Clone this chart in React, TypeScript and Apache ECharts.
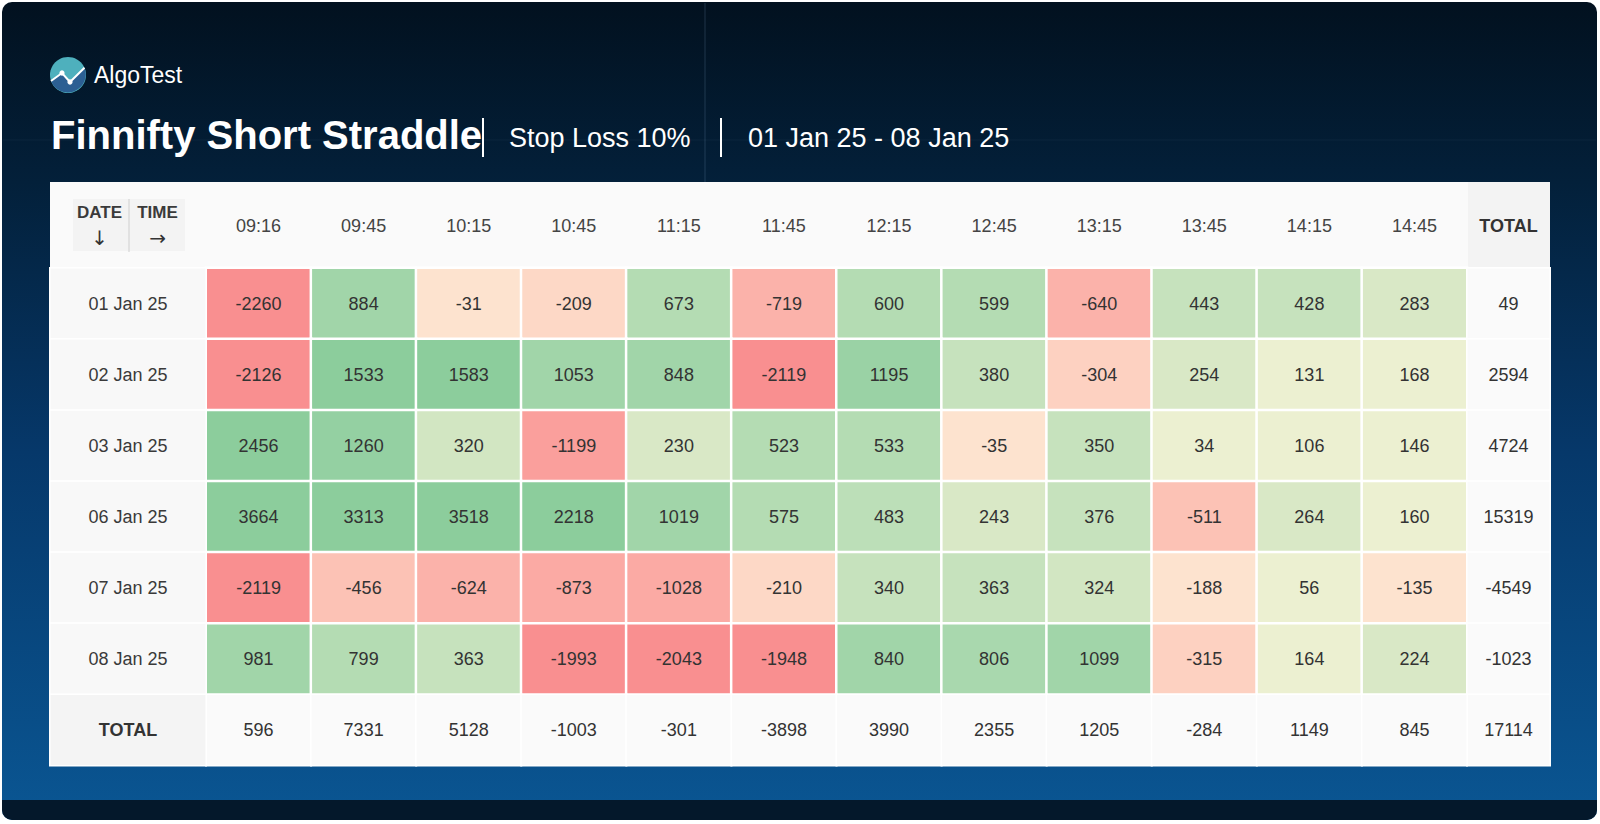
import React, { useEffect, useRef } from 'react';
import * as echarts from 'echarts';

const times = ['09:16', '09:45', '10:15', '10:45', '11:15', '11:45', '12:15', '12:45', '13:15', '13:45', '14:15', '14:45'];
const dates = ['01 Jan 25', '02 Jan 25', '03 Jan 25', '06 Jan 25', '07 Jan 25', '08 Jan 25'];
const row01 = [-2260, 884, -31, -209, 673, -719, 600, 599, -640, 443, 428, 283];
const row02 = [-2126, 1533, 1583, 1053, 848, -2119, 1195, 380, -304, 254, 131, 168];
const row03 = [2456, 1260, 320, -1199, 230, 523, 533, -35, 350, 34, 106, 146];
const row06 = [3664, 3313, 3518, 2218, 1019, 575, 483, 243, 376, -511, 264, 160];
const row07 = [-2119, -456, -624, -873, -1028, -210, 340, 363, 324, -188, 56, -135];
const row08 = [981, 799, 363, -1993, -2043, -1948, 840, 806, 1099, -315, 164, 224];
const rows = [row01, row02, row03, row06, row07, row08];
const rowTotals = [49, 2594, 4724, 15319, -4549, -1023];
const colTotals = [596, 7331, 5128, -1003, -301, -3898, 3990, 2355, 1205, -284, 1149, 845];
const grandTotal = 17114;
const totalLabel = 'TOTAL';

const FONT = '"Liberation Sans", Arial, Helvetica, sans-serif';

const logoD = 'M 51 81 L 62 73 L 70 82 L 84.5 67.8 A 18 18 0 1 1 51 81 Z';
let logoRegistered = false;
function registerLogo() {
  if (logoRegistered) return;
  echarts.graphic.registerShape('logoWave', echarts.graphic.extendPath(logoD, {}));
  logoRegistered = true;
}

const pieces = [
  { lt: -1500, color: '#f98f90' },
  { gte: -1500, lt: -1100, color: '#fa9f9c' },
  { gte: -1100, lt: -800, color: '#fbaaa4' },
  { gte: -800, lt: -600, color: '#fbb2aa' },
  { gte: -600, lt: -400, color: '#fcc2b5' },
  { gte: -400, lt: -250, color: '#fdd1c1' },
  { gte: -250, lt: -200, color: '#fdd8c6' },
  { gte: -200, lt: 0, color: '#fde3cf' },
  { gte: 0, lt: 200, color: '#ecf0d1' },
  { gte: 200, lt: 300, color: '#d9e8c6' },
  { gte: 300, lt: 340, color: '#d2e6c2' },
  { gte: 340, lt: 480, color: '#c6e2bd' },
  { gte: 480, lt: 520, color: '#bcdfb8' },
  { gte: 520, lt: 800, color: '#b4dcb3' },
  { gte: 800, lt: 830, color: '#a9d8ae' },
  { gte: 830, lt: 1150, color: '#a1d5a9' },
  { gte: 1150, lt: 1240, color: '#9ad2a5' },
  { gte: 1240, lt: 1400, color: '#94d0a2' },
  { gte: 1400, color: '#8ccd9c' },
];

export default function App() {
  const ref = useRef<HTMLDivElement>(null);

  useEffect(() => {
    if (!ref.current) return;
    registerLogo();
    const chart = echarts.init(ref.current, null, { renderer: 'svg' });

    const cellData: number[][] = [];
    rows.forEach((r, i) => r.forEach((v, j) => cellData.push([j, i, v])));
    const rowLabels = [...dates, totalLabel];

    const hidden = { show: false };
    const cellLabel = { show: true, fontSize: 18, color: '#333', fontFamily: FONT };

    const option: any = {
      animation: false,
      backgroundColor: 'transparent',
      grid: [
        { left: 206, top: 268, width: 1261, height: 426.5 },
        { left: 1467, top: 268, width: 83, height: 497.5 },
        { left: 206, top: 694.5, width: 1261, height: 71 },
        { left: 50, top: 268, width: 156, height: 497.5 },
      ],
      xAxis: [
        {
          gridIndex: 0, type: 'category', data: times, position: 'top',
          axisLine: hidden, axisTick: hidden, splitLine: hidden,
          axisLabel: { margin: 33, fontSize: 18, color: '#444', fontFamily: FONT },
        },
        {
          gridIndex: 1, type: 'category', data: [totalLabel], position: 'top',
          axisLine: hidden, axisTick: hidden, splitLine: hidden,
          axisLabel: { margin: 33, fontSize: 18, fontWeight: 'bold', color: '#333', fontFamily: FONT },
        },
        { gridIndex: 2, type: 'category', data: times, show: false },
        { gridIndex: 3, type: 'category', data: [''], show: false },
      ],
      yAxis: [
        { gridIndex: 0, type: 'category', data: dates, inverse: true, show: false },
        { gridIndex: 1, type: 'category', data: rowLabels, inverse: true, show: false },
        { gridIndex: 2, type: 'category', data: [totalLabel], show: false },
        { gridIndex: 3, type: 'category', data: rowLabels, inverse: true, show: false },
      ],
      visualMap: [
        { type: 'piecewise', show: false, seriesIndex: 0, dimension: 2, pieces },
        { type: 'piecewise', show: false, seriesIndex: [1, 2], dimension: 2, pieces: [{ gte: -100000000, color: '#fafafa' }] },
        { type: 'piecewise', show: false, seriesIndex: 3, dimension: 2, pieces: [{ value: 0, color: '#f8f8f8' }, { value: 1, color: '#f4f4f4' }] },
      ],
      series: [
        {
          type: 'heatmap', xAxisIndex: 0, yAxisIndex: 0, data: cellData,
          label: cellLabel,
          itemStyle: { borderColor: '#ffffff', borderWidth: 2.5 },
          emphasis: { disabled: true },
        },
        {
          type: 'heatmap', xAxisIndex: 1, yAxisIndex: 1,
          data: [...rowTotals.map((v, i) => [0, i, v]), [0, rowTotals.length, grandTotal]],
          label: cellLabel,
          itemStyle: { borderColor: '#ffffff', borderWidth: 1.5 },
          emphasis: { disabled: true },
        },
        {
          type: 'heatmap', xAxisIndex: 2, yAxisIndex: 2,
          data: colTotals.map((v, j) => [j, 0, v]),
          label: cellLabel,
          itemStyle: { borderColor: '#ffffff', borderWidth: 1.5 },
          emphasis: { disabled: true },
        },
        {
          type: 'heatmap', xAxisIndex: 3, yAxisIndex: 3,
          data: rowLabels.map((d, i) =>
            d === totalLabel
              ? { value: [0, i, 1], label: { fontWeight: 'bold', color: '#333' } }
              : { value: [0, i, 0] }
          ),
          label: { ...cellLabel, color: '#3a3a3a', formatter: (p: any) => rowLabels[p.value[1]] },
          itemStyle: { borderColor: '#ffffff', borderWidth: 1.5 },
          emphasis: { disabled: true },
        },
      ],
      graphic: [
        {
          type: 'rect', z: -10, shape: { x: 2, y: 2, width: 1595, height: 818, r: 10 },
          style: {
            fill: new echarts.graphic.LinearGradient(0, 0, 0, 1, [
              { offset: 0, color: '#02111f' },
              { offset: 0.22, color: '#03203a' },
              { offset: 0.55, color: '#06386a' },
              { offset: 1, color: '#0a5693' },
            ]),
          },
        },
        { type: 'rect', z: -9, shape: { x: 2, y: 800, width: 1595, height: 20, r: [0, 0, 10, 10] }, style: { fill: '#04182b' } },
        { type: 'line', z: -9, shape: { x1: 705, y1: 3, x2: 705, y2: 182 }, style: { stroke: 'rgba(130,160,190,0.16)', lineWidth: 1.5 } },
        { type: 'line', z: -9, shape: { x1: 3, y1: 140, x2: 1596, y2: 140 }, style: { stroke: 'rgba(130,160,190,0.08)', lineWidth: 1 } },
        // logo
        { type: 'circle', z: 5, shape: { cx: 68, cy: 75, r: 18 }, style: { fill: '#4eb0bd' } },
        { type: 'logoWave', z: 6, x: 0, y: 0, style: { fill: '#2c5f93' } },
        { type: 'polyline', z: 7, shape: { points: [[51, 81], [62, 73], [70, 82], [84.5, 67.8]] }, style: { stroke: '#ffffff', lineWidth: 2, fill: null } },
        { type: 'circle', z: 8, shape: { cx: 62, cy: 73, r: 2.6 }, style: { fill: '#ffffff' } },
        { type: 'circle', z: 8, shape: { cx: 70, cy: 82, r: 2.6 }, style: { fill: '#ffffff' } },
        { type: 'text', z: 8, x: 94, y: 75, style: { text: 'AlgoTest', fill: '#ffffff', fontSize: 23, fontFamily: FONT, verticalAlign: 'middle', align: 'left' } },
        // title
        { type: 'text', z: 8, x: 51, y: 135, style: { text: 'Finnifty Short Straddle', fill: '#ffffff', fontSize: 40, fontWeight: 'bold', fontFamily: FONT, verticalAlign: 'middle', align: 'left' } },
        { type: 'rect', z: 8, shape: { x: 482, y: 118, width: 2, height: 39 }, style: { fill: '#ffffff' } },
        { type: 'text', z: 8, x: 509, y: 138, style: { text: 'Stop Loss 10%', fill: '#ffffff', fontSize: 27, fontFamily: FONT, verticalAlign: 'middle', align: 'left' } },
        { type: 'rect', z: 8, shape: { x: 720, y: 118, width: 2, height: 39 }, style: { fill: '#ffffff' } },
        { type: 'text', z: 8, x: 748, y: 138, style: { text: '01 Jan 25 - 08 Jan 25', fill: '#ffffff', fontSize: 27, fontFamily: FONT, verticalAlign: 'middle', align: 'left' } },
        // table background
        { type: 'rect', z: -5, shape: { x: 50, y: 182, width: 1500, height: 584 }, style: { fill: '#ffffff' } },
        { type: 'rect', z: -4, shape: { x: 50, y: 182, width: 1500, height: 85 }, style: { fill: '#fafafa' } },
        { type: 'rect', z: -3, shape: { x: 1468, y: 182, width: 82, height: 85 }, style: { fill: '#f3f3f3' } },
        { type: 'rect', z: -3, shape: { x: 73, y: 199, width: 112, height: 52 }, style: { fill: '#f3f3f3' } },
        { type: 'line', z: -2, shape: { x1: 129, y1: 199, x2: 129, y2: 252 }, style: { stroke: '#cfcfcf', lineWidth: 1 } },
        { type: 'text', z: 8, x: 99.5, y: 212, style: { text: 'DATE', fill: '#3a3a3a', fontSize: 17, fontWeight: 'bold', fontFamily: FONT, verticalAlign: 'middle', align: 'center' } },
        { type: 'text', z: 8, x: 157.5, y: 212, style: { text: 'TIME', fill: '#3a3a3a', fontSize: 17, fontWeight: 'bold', fontFamily: FONT, verticalAlign: 'middle', align: 'center' } },
        { type: 'text', z: 8, x: 99.5, y: 238, style: { text: '↓', fill: '#333', fontSize: 20, fontFamily: '"DejaVu Sans", sans-serif', verticalAlign: 'middle', align: 'center' } },
        { type: 'text', z: 8, x: 157.5, y: 238, style: { text: '→', fill: '#333', fontSize: 20, fontFamily: '"DejaVu Sans", sans-serif', verticalAlign: 'middle', align: 'center' } },
      ],
    };

    chart.setOption(option);
    return () => chart.dispose();
  }, []);

  return (
    <div
      ref={ref}
      style={{ position: 'fixed', left: 0, top: 0, width: 1600, height: 824, background: '#ffffff' }}
    />
  );
}
